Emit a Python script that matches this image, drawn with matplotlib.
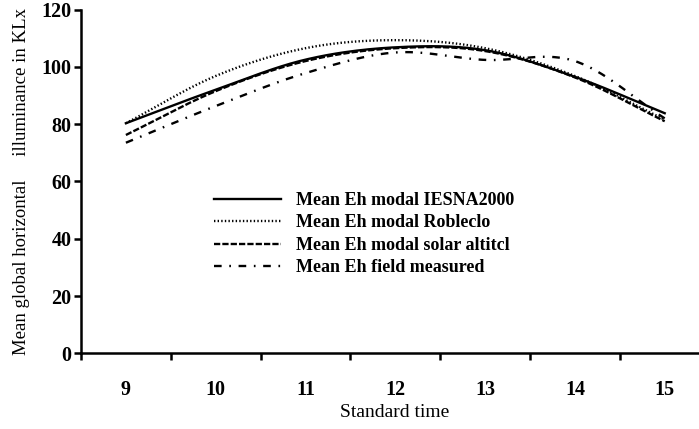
import numpy as np
import matplotlib
matplotlib.use("Agg")
import matplotlib.pyplot as plt

# Standard time (hours) and mean Eh values (KLx)
hours = [9, 10, 11, 12, 13, 14, 15]
eh_iesna = [80.3, 92.0, 102.5, 106.8, 105.8, 96.5, 83.8]
eh_robledo = [80.3, 96.8, 106.5, 109.3, 106.5, 96.8, 81.5]
eh_solar = [76.2, 91.5, 102.0, 106.5, 105.5, 96.3, 81.0]
eh_field = [73.5, 86.3, 97.8, 105.0, 102.4, 102.0, 82.0]

labels = ["Mean Eh modal IESNA2000", "Mean Eh modal Robleclo",
          "Mean Eh modal solar altitcl", "Mean Eh field measured"]
yticks = [0, 20, 40, 60, 80, 100, 120]


def smooth(x, y, n=30):
    # Catmull-Rom style smoothing, like a spreadsheet "smoothed line"
    x = np.asarray(x, float)
    y = np.asarray(y, float)
    m = np.gradient(y, x)
    m[0] = y[1] - y[0]
    m[-1] = y[-1] - y[-2]
    xs, ys = [], []
    for i in range(len(x) - 1):
        t = np.linspace(0, 1, n, endpoint=False)
        h = x[i + 1] - x[i]
        h00 = 2 * t**3 - 3 * t**2 + 1
        h10 = t**3 - 2 * t**2 + t
        h01 = -2 * t**3 + 3 * t**2
        h11 = t**3 - t**2
        xs.append(x[i] + t * h)
        ys.append(h00 * y[i] + h10 * h * m[i] + h01 * y[i + 1] + h11 * h * m[i + 1])
    xs.append([x[-1]])
    ys.append([y[-1]])
    return np.concatenate(xs), np.concatenate(ys)


plt.rcParams['font.family'] = ['Liberation Serif', 'DejaVu Serif']
plt.rcParams['lines.scale_dashes'] = False

fig = plt.figure(figsize=(6.99, 4.29), dpi=100)
ax = fig.add_axes([81 / 699, 75.7 / 429, 618 / 699, 343.8 / 429])

styles = [
    dict(linestyle='-'),
    dict(linestyle=(0, (1.0, 1.6))),
    dict(linestyle=(0, (4.5, 1.5))),
    dict(linestyle=(0, (5.5, 5.5, 1.2, 5.5))),
]
for ys, lab, st in zip([eh_iesna, eh_robledo, eh_solar, eh_field], labels, styles):
    sx, sy = smooth(hours, ys)
    ax.plot(sx, sy, color='black', lw=1.7, label=lab, **st)

ax.set_ylim(0, 120)
ax.set_xlim(8.5, 8.5 + 618 / 89.8)
ax.set_yticks(yticks)
ax.set_xticks(np.arange(8.5, 15.0, 1.0))
ax.set_xticklabels([])
ax.set_xticks(hours, minor=True)
ax.set_xticklabels([str(h) for h in hours], minor=True)
ax.tick_params(axis='x', which='major', direction='out', length=5, width=1.8)
ax.tick_params(axis='x', which='minor', length=0, pad=19, labelsize=14.5)
ax.tick_params(axis='y', direction='out', length=5, width=1.8, pad=2, labelsize=14.5)
for lab in ax.get_xticklabels(minor=True) + ax.get_yticklabels():
    lab.set_fontweight('bold')

for s in ['top', 'right']:
    ax.spines[s].set_visible(False)
for s in ['left', 'bottom']:
    ax.spines[s].set_linewidth(1.8)

ax.set_ylabel("Mean global horizontal     illuminance in KLx", fontsize=13.5)
ax.yaxis.set_label_coords(-0.082, 0.5)
ax.set_xlabel("Standard time", fontsize=14)
ax.xaxis.set_label_coords(0.508, -0.147)

leg = ax.legend(loc='upper left', bbox_to_anchor=(214 / 699, 1 - 192 / 429),
                bbox_transform=fig.transFigure, frameon=False,
                prop=dict(size=13, weight='bold'), handlelength=3.7,
                handletextpad=0.85, labelspacing=0.3, borderpad=0, borderaxespad=0)

fig.savefig("out.png", dpi=100)
